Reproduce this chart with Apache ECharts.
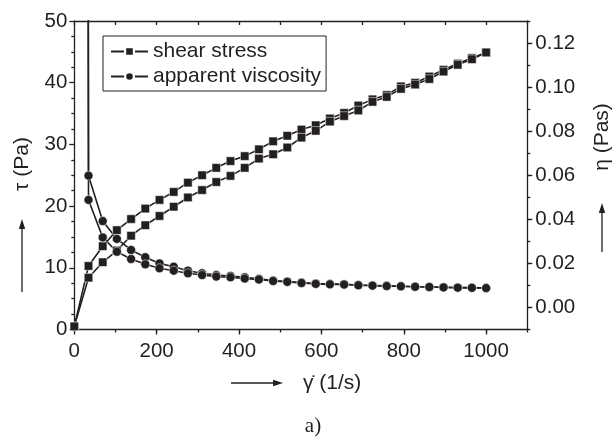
<!DOCTYPE html>
<html>
<head>
<meta charset="utf-8">
<script src="https://cdn.jsdelivr.net/npm/echarts@6/dist/echarts.min.js"></script>
<style>html,body{margin:0;padding:0;background:#fff;}#c{width:613px;height:437px;}</style>
</head>
<body>
<div id="c"></div>
<script>
// ---- data ----
var shearRate = [0, 34.5, 69.0, 103.4, 137.9, 172.4, 206.9, 241.4, 275.9, 310.3, 344.8, 379.3, 413.8, 448.3, 482.8, 517.2, 551.7, 586.2, 620.7, 655.2, 689.7, 724.1, 758.6, 793.1, 827.6, 862.1, 896.6, 931.0, 965.5, 1000];
var stressUp = [0.5, 10.3, 13.5, 16.1, 17.9, 19.6, 21.0, 22.3, 23.8, 25.0, 26.2, 27.3, 28.1, 29.2, 30.5, 31.4, 32.4, 33.1, 34.2, 35.1, 36.3, 37.3, 38.0, 39.4, 40.0, 41.0, 42.1, 43.1, 44.0, 44.9];
var stressDown = [0.5, 8.4, 10.9, 12.8, 15.2, 16.9, 18.4, 19.9, 21.4, 22.6, 23.9, 24.9, 26.2, 27.7, 28.4, 29.5, 31.1, 32.2, 33.7, 34.6, 35.5, 36.9, 37.7, 39.0, 39.7, 40.6, 41.8, 42.9, 43.8, 44.9];
var viscUp = [5, 0.0598, 0.0392, 0.0311, 0.0261, 0.0228, 0.0200, 0.0185, 0.0167, 0.0155, 0.0147, 0.0143, 0.0137, 0.0130, 0.0122, 0.0118, 0.0113, 0.0109, 0.0107, 0.0105, 0.0102, 0.0100, 0.0098, 0.0096, 0.0094, 0.0093, 0.0092, 0.0090, 0.0090, 0.0088];
var viscDown = [5, 0.0488, 0.0318, 0.0253, 0.0220, 0.0196, 0.0178, 0.0167, 0.0155, 0.0147, 0.0140, 0.0137, 0.0131, 0.0127, 0.0120, 0.0116, 0.0111, 0.0107, 0.0105, 0.0104, 0.0101, 0.0099, 0.0097, 0.0096, 0.0094, 0.0093, 0.0091, 0.0090, 0.0089, 0.0088];
var xTickLabels = [0, 200, 400, 600, 800, 1000];
var rightTickLabels = [0, 0.02, 0.04, 0.06, 0.08, 0.10, 0.12];
var legendNames = ['shear stress', 'apparent viscosity'];

var INK = '#231f20';
var FONT = 'Liberation Sans, Arial, Helvetica, sans-serif';

function pairs(xs, ys) { return xs.map(function (x, i) { return [x, ys[i]]; }); }

function lineSeries(name, ys, symbol, size, yIdx) {
  return {
    type: 'line', name: name, data: pairs(shearRate, ys),
    xAxisIndex: 0, yAxisIndex: yIdx,
    symbol: symbol, symbolSize: size, showSymbol: true,
    lineStyle: { color: INK, width: 1.6 },
    itemStyle: { color: INK, borderColor: '#fff', borderWidth: 0.5 },
    emphasis: { disabled: true }, animation: false, clip: true
  };
}

var axisLineStyle = { color: INK, width: 1.3 };
var labelStyle = { fontSize: 20.5, color: INK, fontFamily: FONT };

var option = {
  animation: false,
  grid: { left: 74.3, right: 85.7, top: 21, bottom: 107.5, containLabel: false },
  legend: {
    data: legendNames, orient: 'vertical', left: 103, top: 36,
    padding: [5, 5, 4, 7], itemGap: 4, itemWidth: 37, itemHeight: 11,
    backgroundColor: '#fff', borderColor: INK, borderWidth: 1, borderRadius: 0,
    textStyle: { fontSize: 21, color: INK, fontFamily: FONT },
    itemStyle: { borderColor: '#fff', borderWidth: 2.2 },
    selectedMode: false
  },
  xAxis: [
    { type: 'value', position: 'bottom', min: 0, max: 1100, interval: 100,
      axisLine: { show: true, onZero: false, lineStyle: axisLineStyle },
      axisTick: { show: true, inside: false, length: 3, lineStyle: axisLineStyle },
      axisLabel: { show: false }, splitLine: { show: false } },
    { type: 'value', position: 'bottom', min: 0, max: 1100,
      axisLine: { show: false, onZero: false },
      axisTick: { show: true, inside: false, length: 5, lineStyle: axisLineStyle, customValues: xTickLabels },
      axisLabel: Object.assign({ show: true, margin: 11, customValues: xTickLabels,
        formatter: function (v) { return String(v); } }, labelStyle),
      splitLine: { show: false } },
    { type: 'value', position: 'top', min: 0, max: 1100, interval: 100,
      axisLine: { show: true, onZero: false, lineStyle: axisLineStyle },
      axisTick: { show: true, inside: true, length: 4, lineStyle: axisLineStyle },
      axisLabel: { show: false }, splitLine: { show: false } }
  ],
  yAxis: [
    { type: 'value', position: 'left', min: 0, max: 50, interval: 10,
      axisLine: { show: true, onZero: false, lineStyle: axisLineStyle },
      axisTick: { show: true, inside: false, length: 5, lineStyle: axisLineStyle },
      minorTick: { show: true, splitNumber: 4, length: 3, lineStyle: axisLineStyle },
      axisLabel: Object.assign({ show: true, margin: 7 }, labelStyle),
      splitLine: { show: false }, minorSplitLine: { show: false } },
    { type: 'value', position: 'right', min: -0.01, max: 0.13, interval: 0.01,
      axisLine: { show: true, onZero: false, lineStyle: axisLineStyle },
      axisTick: { show: true, inside: false, length: 3, lineStyle: axisLineStyle },
      axisLabel: { show: false }, splitLine: { show: false } },
    { type: 'value', position: 'right', min: -0.01, max: 0.13,
      axisLine: { show: false, onZero: false },
      axisTick: { show: true, inside: false, length: 5, lineStyle: axisLineStyle, customValues: rightTickLabels },
      axisLabel: Object.assign({ show: true, margin: 8, customValues: rightTickLabels,
        formatter: function (v) { return v.toFixed(2); } }, labelStyle),
      splitLine: { show: false } }
  ],
  series: [
    lineSeries(legendNames[0], stressUp, 'rect', 8.5, 0),
    lineSeries(legendNames[0], stressDown, 'rect', 8.5, 0),
    lineSeries(legendNames[1], viscUp, 'circle', 9, 1),
    lineSeries(legendNames[1], viscDown, 'circle', 9, 1)
  ],
  graphic: [
    { type: 'text', x: 22, y: 164, rotation: Math.PI / 2,
      style: { text: 'τ (Pa)', fontSize: 21, fontFamily: FONT, fill: INK, textAlign: 'center', textVerticalAlign: 'middle' } },
    { type: 'line', shape: { x1: 22, y1: 292, x2: 22, y2: 227 }, style: { stroke: INK, lineWidth: 1.3 } },
    { type: 'polygon', shape: { points: [[22, 219], [18.8, 229], [25.2, 229]] }, style: { fill: INK } },

    { type: 'text', x: 602, y: 137, rotation: Math.PI / 2,
      style: { text: 'η (Pas)', fontSize: 21, fontFamily: FONT, fill: INK, textAlign: 'center', textVerticalAlign: 'middle' } },
    { type: 'line', shape: { x1: 602, y1: 252, x2: 602, y2: 211 }, style: { stroke: INK, lineWidth: 1.3 } },
    { type: 'polygon', shape: { points: [[602, 203], [598.8, 213], [605.2, 213]] }, style: { fill: INK } },

    { type: 'line', shape: { x1: 231, y1: 383, x2: 275, y2: 383 }, style: { stroke: INK, lineWidth: 1.3 } },
    { type: 'polygon', shape: { points: [[283, 383], [273, 379.8], [273, 386.2]] }, style: { fill: INK } },
    { type: 'text', x: 303, y: 383,
      style: { text: 'γ\u0307 (1/s)', fontSize: 21, fontFamily: FONT, fill: INK, textAlign: 'left', textVerticalAlign: 'middle' } },

    { type: 'text', x: 313, y: 426,
      style: { text: 'a)', fontSize: 21, fontFamily: 'Liberation Serif, Times New Roman, serif', fill: INK, textAlign: 'center', textVerticalAlign: 'middle' } }
  ]
};

var chart = echarts.init(document.getElementById('c'), null, { renderer: 'canvas' });
chart.setOption(option);
</script>
</body>
</html>
